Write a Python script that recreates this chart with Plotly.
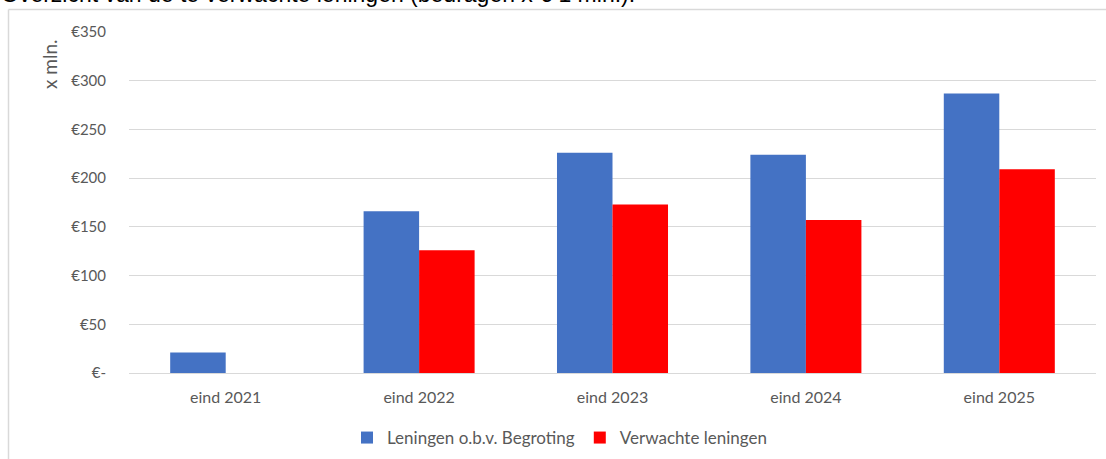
import plotly.graph_objects as go

categories = ["eind 2021", "eind 2022", "eind 2023", "eind 2024", "eind 2025"]
begroting = [21, 166, 226, 224, 287]
verwacht = [None, 126, 173, 157, 209]
tick_vals = [0, 50, 100, 150, 200, 250, 300, 350]
tick_text = ["€-", "€50", "€100", "€150", "€200", "€250", "€300", "€350"]

W, H = 1106, 459
L, R, T, B = 129, 10, 32, 86
pw, ph = W - L - R, H - T - B

def px_x(x):
    return (x - L) / pw

def px_y(y):
    return (H - B - y) / ph

font = "Lato, Open Sans, sans-serif"
grey = "#595959"

fig = go.Figure()
fig.add_trace(go.Bar(x=categories, y=begroting, name="Leningen o.b.v. Begroting",
                     marker=dict(color="#4472C4", line=dict(width=0))))
fig.add_trace(go.Bar(x=categories, y=verwacht, name="Verwachte leningen",
                     marker=dict(color="#FF0000", line=dict(width=0))))

fig.update_layout(
    width=W, height=H,
    margin=dict(l=L, r=R, t=T, b=B, autoexpand=False),
    paper_bgcolor="white", plot_bgcolor="white",
    barmode="group", bargap=0.426, bargroupgap=0,
    font=dict(family=font, color=grey),
    showlegend=True,
    legend=dict(orientation="h", x=px_x(347), xanchor="left", y=px_y(438), yanchor="middle",
                font=dict(size=17, color=grey), traceorder="normal", itemwidth=30),
    xaxis=dict(showgrid=False, showline=True, linecolor="#d9d9d9", linewidth=1,
               tickfont=dict(size=16, color=grey), ticks="", ticklabelstandoff=10),
    yaxis=dict(range=[0, 350], tickvals=tick_vals, ticktext=tick_text,
               showgrid=True, gridcolor="#d9d9d9", gridwidth=1, zeroline=False,
               showline=False, ticks="", tickfont=dict(size=15, color=grey),
               ticklabelstandoff=22),
    shapes=[
        dict(type="line", xref="paper", yref="paper", x0=px_x(8.5), x1=px_x(1106),
             y0=px_y(9.5), y1=px_y(9.5), line=dict(color="#d9d9d9", width=1.5)),
        dict(type="line", xref="paper", yref="paper", x0=px_x(8.5), x1=px_x(8.5),
             y0=px_y(9.5), y1=px_y(460), line=dict(color="#d9d9d9", width=1.5)),
    ],
    annotations=[
        dict(text="Overzicht van de te verwachte leningen (bedragen x € 1 mln.).",
             xref="paper", yref="paper", x=px_x(-1), y=px_y(8.5), xanchor="left",
             yanchor="bottom", showarrow=False,
             font=dict(family="Liberation Sans, Arial, sans-serif", size=23, color="black")),
        dict(text="x mln.", xref="paper", yref="paper", x=px_x(49), y=px_y(64),
             xanchor="center", yanchor="middle", textangle=-90, showarrow=False,
             font=dict(size=19, color=grey)),
    ],
)

fig.write_html("out.html", config={"displayModeBar": False},
               post_script="document.body.style.margin='0';document.body.style.padding='0';")
